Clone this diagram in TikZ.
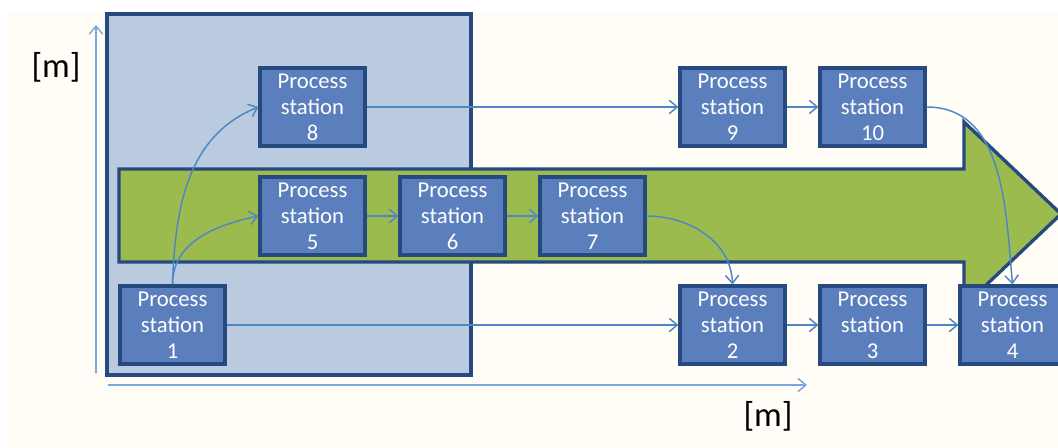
\documentclass[tikz,border=0pt]{standalone}
\usepackage{fontspec}
\setmainfont{Carlito}
\usetikzlibrary{arrows.meta,positioning}
\definecolor{PlantNavy}{HTML}{26497F}
\definecolor{PlantBlue}{HTML}{5B7FBD}
\definecolor{PlantArea}{HTML}{BACBDF}
\definecolor{PlantGreen}{HTML}{9BBB4F}
\definecolor{PlantLink}{HTML}{4F86C6}
\definecolor{PlantAxis}{HTML}{78A8DC}
\definecolor{PlantPaper}{HTML}{FFFDF5}
\tikzset{station/.style={draw=PlantNavy,line width=2.4pt,fill=PlantBlue,text=white,align=center,
    minimum width=78.75pt,minimum height=58.5pt,inner sep=0pt,font=\fontsize{17}{19.5}\selectfont},
  link/.style={-{Straight Barb[length=6pt,width=10pt]},line width=1.1pt,PlantLink}}

\begin{document}
\begin{tikzpicture}[x=0.75pt,y=-0.75pt,
  axis/.style={-{Straight Barb[length=6pt,width=10pt]},line width=1.1pt,PlantAxis},
  unit/.style={font=\fontsize{26}{30}\selectfont,text=black,inner sep=0pt}]
\useasboundingbox (0,0) rectangle (1058,448);
\clip (0,0) rectangle (1058,448);
\fill[white] (0,0) rectangle (1058,448);
\fill[PlantPaper] (7,13) rectangle (1058,448);
% Area of the first line
\draw[PlantNavy,line width=2.5pt,fill=PlantArea] (107,14) rectangle (471,375);
% Main flow arrow
\draw[PlantNavy,line width=2.5pt,fill=PlantGreen,line join=miter]
  (119,169) -- (964,169) -- (964,122) -- (1061,214) -- (964,306) -- (964,262) -- (119,262) -- cycle;
% Axes
\coordinate (orig) at (96,373);
\coordinate (ytop) at (96,25);
\coordinate (xorig) at (108,385);
\coordinate (xend) at (807,385);
\draw[axis] (orig)--(ytop);
\draw[axis] (xorig)--(xend);
\node[unit] (ylab) at (56,67) {[m]};
\node[unit] (xlab) at (768,416) {[m]};
% Stations
\node[station] (ps1) at (172.5,325) {Process\\station\\1};
\node[station] (ps8) at (312.5,107) {Process\\station\\8};
\node[station] (ps5) at (312.5,216) {Process\\station\\5};
\node[station] (ps6) at (452.5,216) {Process\\station\\6};
\node[station] (ps7) at (592.5,216) {Process\\station\\7};
\node[station] (ps9) at (732.5,107) {Process\\station\\9};
\node[station] (ps10) at (872.5,107) {Process\\station\\10};
\node[station] (ps2) at (732.5,325) {Process\\station\\2};
\node[station] (ps3) at (872.5,325) {Process\\station\\3};
\node[station] (ps4) at (1012.5,325) {Process\\station\\4};
% Material flow
\draw[link] (ps1.north) to[out=88,in=202] (ps8.west);
\draw[link] (ps1.north) to[out=90,in=192] (ps5.west);
\draw[link] (ps5)--(ps6); \draw[link] (ps6)--(ps7);
\draw[link] (ps7.east) to[out=0,in=92] (ps2.north);
\draw[link] (ps8)--(ps9); \draw[link] (ps9)--(ps10);
\draw[link] (ps10.east) to[out=0,in=95] (ps4.north);
\draw[link] (ps1)--(ps2); \draw[link] (ps2)--(ps3); \draw[link] (ps3)--(ps4);
\end{tikzpicture}
\end{document}
